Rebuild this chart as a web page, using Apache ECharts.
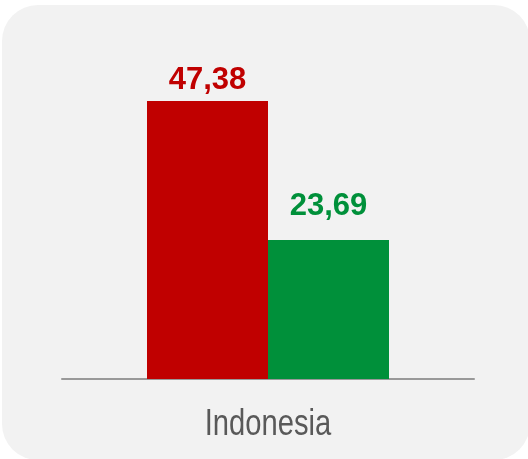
<!DOCTYPE html>
<html>
<head>
<meta charset="utf-8">
<script src="https://cdn.jsdelivr.net/npm/echarts@6/dist/echarts.min.js"></script>
<style>
  html, body { margin: 0; padding: 0; background: #ffffff; }
  #chart { width: 528px; height: 459px; }
</style>
</head>
<body>
<div id="chart"></div>
<script>
// Category and the two series values
const categories = ['Indonesia'];
const seriesA = [47.38];
const seriesB = [23.69];
const seriesColors = ['#c00000', '#00903a'];

const fmt = (v) => v.toFixed(2).replace('.', ',');
const FONT = '"Liberation Sans", Arial, sans-serif';

const chart = echarts.init(document.getElementById('chart'), null, { renderer: 'canvas' });

function makeSeries(values, color, labelGap) {
  return {
    type: 'bar',
    data: values,
    barWidth: 121,
    barGap: '0%',
    itemStyle: { color: color },
    label: {
      show: true,
      position: 'top',
      distance: labelGap,
      formatter: (p) => fmt(p.value),
      color: color,
      fontFamily: FONT,
      fontWeight: 'bold',
      fontSize: 31
    },
    silent: true
  };
}

const panel = {
  type: 'rect',
  id: 'panel',
  z: -10,
  shape: { x: 2, y: 5, width: 528, height: 455, r: 36 },
  style: { fill: '#f2f2f2' }
};

chart.setOption({
  animation: false,
  backgroundColor: '#ffffff',
  graphic: [panel],
  grid: { left: 62, right: 54, bottom: 80, top: 85.6, containLabel: false },
  xAxis: {
    type: 'category',
    data: categories,
    axisLine: { show: true, lineStyle: { color: '#999999', width: 2 } },
    axisTick: { show: false },
    axisLabel: { show: false }
  },
  yAxis: {
    type: 'value',
    min: 0,
    max: 50,
    show: false,
    splitLine: { show: false }
  },
  series: [makeSeries(seriesA, seriesColors[0], 5), makeSeries(seriesB, seriesColors[1], 18)]
});

// Category names in a condensed face, placed under each category through the axis scale
const baseY = chart.convertToPixel({ yAxisIndex: 0 }, 0);
const catLabels = categories.map((name, i) => {
  const cx = chart.convertToPixel({ xAxisIndex: 0 }, i);
  return {
    type: 'text',
    x: cx,
    y: baseY + 46,
    scaleX: 0.81,
    style: {
      text: name,
      fill: '#595959',
      font: '36px "Liberation Sans", Arial, sans-serif',
      align: 'center',
      verticalAlign: 'middle'
    },
    silent: true
  };
});
chart.setOption({ graphic: [panel].concat(catLabels) });
</script>
</body>
</html>
